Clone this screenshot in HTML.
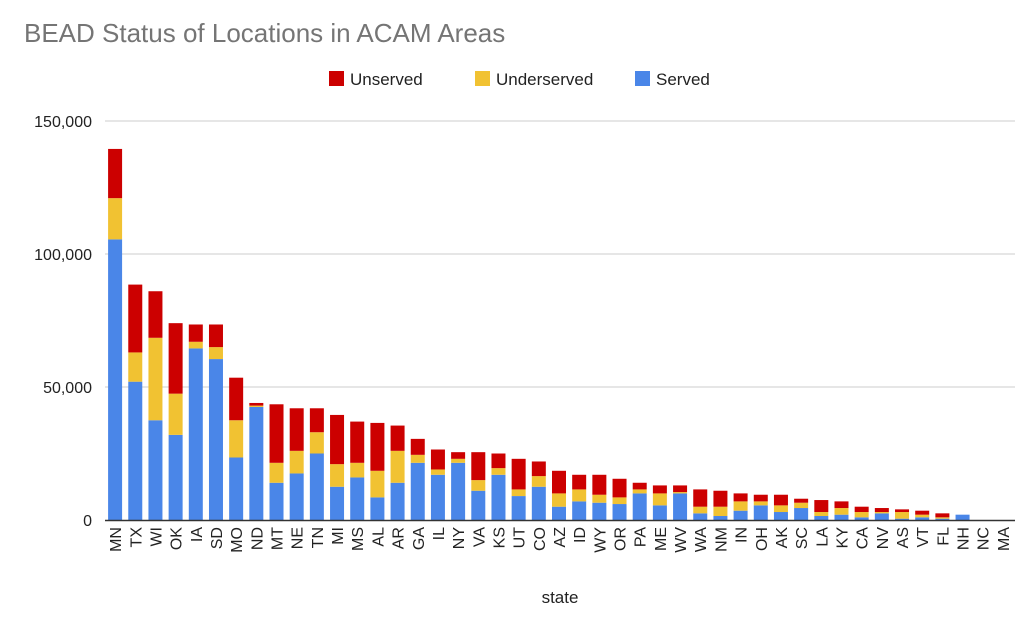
<!DOCTYPE html>
<html><head><meta charset="utf-8"><style>
body{margin:0;background:#fff;font-family:"Liberation Sans",Arial,sans-serif}
</style></head><body>
<svg id="chart" width="1024" height="613" xmlns="http://www.w3.org/2000/svg">
<text x="24" y="42" font-size="26" fill="#757575">BEAD Status of Locations in ACAM Areas</text>
<g font-size="17" fill="#222">
<rect x="329" y="71" width="15" height="15" fill="#cc0000"/>
<text x="350" y="85">Unserved</text>
<rect x="475" y="71" width="15" height="15" fill="#f1c232"/>
<text x="496" y="85">Underserved</text>
<rect x="635" y="71" width="15" height="15" fill="#4a86e8"/>
<text x="656" y="85">Served</text>
</g>
<g id="grid"></g><g id="bars"></g><g id="xlabels"></g>
<line x1="105" y1="520.5" x2="1015" y2="520.5" stroke="#333" stroke-width="1.5"/>
<text x="560" y="603" font-size="17" text-anchor="middle" fill="#222">state</text>
</svg>
<script>
const states=["MN","TX","WI","OK","IA","SD","MO","ND","MT","NE","TN","MI","MS","AL","AR","GA","IL","NY","VA","KS","UT","CO","AZ","ID","WY","OR","PA","ME","WV","WA","NM","IN","OH","AK","SC","LA","KY","CA","NV","AS","VT","FL","NH","NC","MA"];
const served=[105.5,52,37.5,32,64.5,60.5,23.5,42.5,14,17.5,25,12.5,16,8.5,14,21.5,17,21.5,11,17,9,12.5,5,7,6.5,6,10,5.5,10,2.5,1.5,3.5,5.5,3,4.5,1.5,2,1,2.5,0.5,1,0.5,2,0,0];
const underserved=[15.5,11,31,15.5,2.5,4.5,14,0.5,7.5,8.5,8,8.5,5.5,10,12,3,2,1.5,4,2.5,2.5,4,5,4.5,3,2.5,1.5,4.5,0.5,2.5,3.5,3.5,1.5,2.5,2,1.5,2.5,2,0.5,2.5,1,0.5,0,0,0];
const unserved=[18.5,25.5,17.5,26.5,6.5,8.5,16,1,22,16,9,18.5,15.5,18,9.5,6,7.5,2.5,10.5,5.5,11.5,5.5,8.5,5.5,7.5,7,2.5,3,2.5,6.5,6,3,2.5,4,1.5,4.5,2.5,2,1.5,1,1.5,1.5,0,0,0];
const yTicks=[0,50000,100000,150000];
const yTickLabels=["0","50,000","100,000","150,000"];
const NS="http://www.w3.org/2000/svg";
const x0=105,x1=1013,yB=520,yT=121,maxV=150000;
const y=v=>yB-(v/maxV)*(yB-yT);
const step=(x1-x0)/states.length;
const bx=i=>x0+step*i+step/2;
const grid=document.getElementById('grid');
yTicks.forEach((t,i)=>{
 if(t>0){const l=document.createElementNS(NS,'line');
 
 
 l.setAttribute('x1',x0);l.setAttribute('x2',1015);l.setAttribute('y1',y(t));l.setAttribute('y2',y(t));
 l.setAttribute('stroke','#ccc');grid.appendChild(l);}
 const tx=document.createElementNS(NS,'text');
 
 
 tx.setAttribute('x',92);tx.setAttribute('y',y(t)+6);tx.setAttribute('text-anchor','end');
 tx.setAttribute('font-size','16');tx.setAttribute('fill','#222');tx.textContent=yTickLabels[i];grid.appendChild(tx);
});
const bars=document.getElementById('bars'),xl=document.getElementById('xlabels');
const w=14;
states.forEach((s,i)=>{
 const segs=[[served[i],'#4a86e8','served'],[underserved[i],'#f1c232','underserved'],[unserved[i],'#cc0000','unserved']];
 let base=0;
 segs.forEach(([v,c,n])=>{
  if(v<=0)return;
  const top=base+v*1000;
  const r=document.createElementNS(NS,'rect');
  
  
  r.setAttribute('x',bx(i)-w/2);r.setAttribute('width',w);
  r.setAttribute('y',y(top));r.setAttribute('height',y(base)-y(top));
  r.setAttribute('fill',c);bars.appendChild(r);base=top;
 });
 const t=document.createElementNS(NS,'text');
 
 
 const X=bx(i)+6,Y=527;
 t.setAttribute('x',X);t.setAttribute('y',Y);t.setAttribute('text-anchor','end');
 t.setAttribute('transform','rotate(-90 '+X+' '+Y+')');
 t.setAttribute('font-size','16');t.setAttribute('fill','#222');t.textContent=s;xl.appendChild(t);
});
</script>
</body></html>
